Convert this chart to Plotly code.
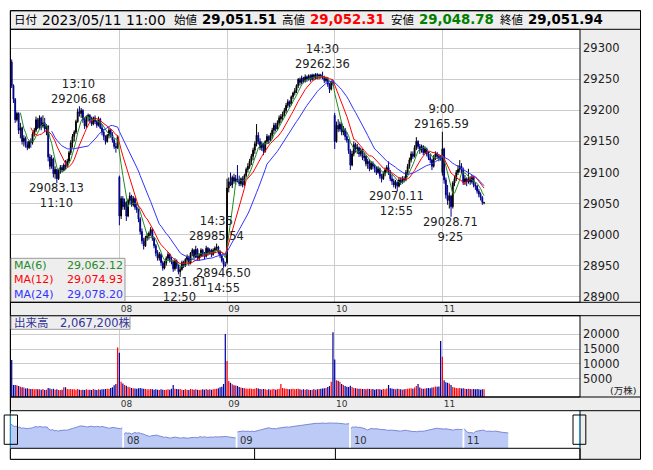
import plotly.graph_objects as go
import pandas as pd

# ---------------- data ----------------
day_labels = ["08", "09", "10", "11"]
day_start_index = [62, 124, 186, 248]
date_text = "2023/05/11 11:00"
ma_periods = [6, 12, 24]
ma_colors = ["#228b22", "#ff0000", "#3333ff"]
ma_last_text = [29062.12, 29074.93, 29078.20]
volume_total_text = "2,067,200株"
price_ticks = [28900, 28950, 29000, 29050, 29100, 29150, 29200, 29250, 29300]
volume_ticks = [5000, 10000, 15000, 20000]

marker_index = [39, 26, 97, 118, 122, 179, 222, 248, 253]
marker_kind = ["high", "low", "low", "high", "low", "high", "low", "high", "low"]
marker_time = ["13:10", "11:10", "12:50", "14:35", "14:55", "14:30", "12:55", "9:00", "9:25"]

# day 0 (05/02)
d0_open = [29278, 29240, 29218, 29185, 29195, 29168, 29172, 29150, 29155, 29145,
           29140, 29150, 29148, 29162, 29168, 29185, 29172, 29188, 29175, 29180,
           29170, 29175, 29125, 29110, 29122, 29098, 29105, 29090, 29102, 29108,
           29104, 29112, 29110, 29118, 29132, 29148, 29158, 29165, 29182, 29198,
           29195, 29200, 29185, 29175, 29190, 29192, 29184, 29178, 29188, 29182,
           29176, 29186, 29172, 29165, 29158, 29150, 29160, 29168, 29160, 29152,
           29142, 29140]
d0_high = [29282, 29242, 29220, 29198, 29197, 29180, 29174, 29160, 29158, 29150,
           29152, 29155, 29165, 29172, 29190, 29188, 29192, 29190, 29192, 29188,
           29178, 29176, 29130, 29128, 29124, 29110, 29106, 29106, 29112, 29112,
           29115, 29120, 29122, 29135, 29152, 29162, 29168, 29185, 29203, 29206.68,
           29204, 29202, 29188, 29192, 29195, 29194, 29190, 29190, 29192, 29185,
           29190, 29188, 29178, 29170, 29160, 29162, 29172, 29170, 29165, 29155,
           29148, 29160]
d0_low = [29236, 29212, 29180, 29182, 29162, 29155, 29145, 29142, 29140, 29136,
          29138, 29140, 29145, 29158, 29165, 29170, 29170, 29168, 29172, 29165,
          29160, 29118, 29105, 29106, 29092, 29090, 29083.13, 29088, 29098, 29100,
          29102, 29105, 29108, 29115, 29128, 29140, 29150, 29162, 29180, 29190,
          29188, 29180, 29170, 29172, 29182, 29180, 29175, 29176, 29178, 29172,
          29174, 29170, 29160, 29152, 29145, 29148, 29155, 29156, 29148, 29138,
          29132, 29138]
d0_close = [29240, 29218, 29185, 29195, 29168, 29172, 29150, 29155, 29145, 29140,
            29150, 29148, 29162, 29168, 29185, 29172, 29188, 29175, 29180, 29170,
            29175, 29125, 29110, 29122, 29098, 29105, 29090, 29102, 29108, 29104,
            29112, 29110, 29118, 29132, 29148, 29158, 29165, 29182, 29198, 29195,
            29200, 29185, 29175, 29190, 29192, 29184, 29178, 29188, 29182, 29176,
            29186, 29172, 29165, 29158, 29150, 29160, 29168, 29160, 29152, 29142,
            29140, 29158]
d0_vol = [11300, 2900, 2900, 2800, 2500, 2300, 2100, 2000, 1700, 1800,
          1600, 1500, 1500, 1400, 1500, 1400, 1400, 1300, 1500, 1200,
          1300, 1900, 1700, 1400, 1600, 1300, 1400, 1200, 1200, 1300,
          2100, 2100, 1500, 1400, 1500, 1400, 1400, 1300, 1500, 1300,
          1200, 1300, 1200, 1400, 1300, 1300, 1200, 1500, 1300, 1200,
          1400, 1300, 1400, 1400, 1500, 1600, 1500, 1900, 2100, 2800,
          3200, 15500]

# day 1 (05/08)
d1_open = [29093, 29030, 29058, 29045, 29052, 29030, 29055, 29062, 29048, 29058,
           29044, 29040, 29025, 29005, 28990, 28982, 28995, 28998, 29002, 29008,
           28994, 28982, 28970, 28962, 28968, 28955, 28946, 28954, 28962, 28968,
           28960, 28956, 28945, 28958, 28950, 28940, 28944, 28955, 28950, 28960,
           28964, 28954, 28970, 28975, 28964, 28976, 28962, 28966, 28975, 28968,
           28965, 28978, 28970, 28975, 28968, 28975, 28978, 28980, 28972, 28966,
           28958, 28952]
d1_high = [29095, 29062, 29062, 29058, 29054, 29058, 29068, 29064, 29062, 29060,
           29050, 29042, 29028, 29010, 28995, 28998, 29002, 29005, 29012, 29010,
           28996, 28985, 28975, 28972, 28970, 28958, 28958, 28965, 28972, 28970,
           28964, 28958, 28962, 28960, 28952, 28948, 28958, 28958, 28962, 28968,
           28966, 28972, 28978, 28977, 28982, 28978, 28970, 28978, 28977, 28972,
           28982, 28980, 28978, 28977, 28978, 28981, 28985.54, 28982, 28975, 28968,
           28962, 28956]
d1_low = [29015, 29025, 29040, 29040, 29022, 29028, 29050, 29045, 29045, 29040,
          29035, 29020, 29000, 28985, 28976, 28980, 28990, 28992, 28998, 28990,
          28978, 28965, 28958, 28958, 28950, 28942, 28944, 28950, 28958, 28955,
          28952, 28940, 28942, 28945, 28936, 28931.81, 28942, 28946, 28948, 28955,
          28950, 28952, 28965, 28960, 28962, 28958, 28958, 28964, 28965, 28960,
          28963, 28966, 28968, 28964, 28966, 28970, 28974, 28968, 28962, 28955,
          28946.50, 28948]
d1_close = [29030, 29058, 29045, 29052, 29030, 29055, 29062, 29048, 29058, 29044,
            29040, 29025, 29005, 28990, 28982, 28995, 28998, 29002, 29008, 28994,
            28982, 28970, 28962, 28968, 28955, 28946, 28954, 28962, 28968, 28960,
            28956, 28945, 28958, 28950, 28940, 28944, 28955, 28950, 28960, 28964,
            28954, 28970, 28975, 28964, 28976, 28962, 28966, 28975, 28968, 28965,
            28978, 28970, 28975, 28968, 28975, 28978, 28980, 28972, 28966, 28958,
            28952, 28950]
d1_vol = [13800, 4000, 3400, 2900, 2600, 2300, 2100, 1900, 1800, 1700,
          1600, 1800, 1900, 1700, 1600, 1500, 1400, 1400, 1500, 1400,
          1300, 1400, 1300, 1200, 1400, 1300, 1200, 1300, 1400, 1300,
          1600, 2900, 1600, 1500, 1400, 1500, 1300, 1200, 1400, 1300,
          1200, 1500, 1400, 1300, 1400, 1300, 1200, 1300, 1400, 1300,
          1500, 1300, 1400, 1300, 1400, 1500, 1600, 1800, 2100, 2300,
          3200, 20100]

# day 2 (05/09)
d2_open = [28955, 29075, 29085, 29080, 29092, 29086, 29090, 29088, 29082, 29090,
           29080, 29095, 29105, 29110, 29118, 29126, 29136, 29146, 29160, 29150,
           29140, 29146, 29134, 29150, 29158, 29152, 29160, 29168, 29176, 29170,
           29180, 29186, 29190, 29194, 29200, 29208, 29214, 29210, 29222, 29228,
           29232, 29240, 29250, 29245, 29252, 29248, 29254, 29250, 29256, 29250,
           29257, 29252, 29258, 29254, 29257, 29255, 29253, 29248, 29251, 29242,
           29234, 29246]
d2_high = [29090, 29092, 29100, 29095, 29098, 29096, 29112, 29095, 29092, 29094,
           29098, 29108, 29115, 29122, 29130, 29140, 29150, 29178, 29165, 29155,
           29150, 29148, 29152, 29162, 29160, 29164, 29172, 29180, 29180, 29184,
           29192, 29194, 29198, 29204, 29212, 29218, 29216, 29224, 29230, 29236,
           29242, 29252, 29253, 29256, 29254, 29258, 29256, 29258, 29258, 29259,
           29259, 29260, 29260, 29259, 29259, 29262.36, 29256, 29254, 29253, 29244,
           29248, 29248]
d2_low = [28952, 29068, 29078, 29075, 29082, 29080, 29084, 29078, 29078, 29076,
          29078, 29092, 29100, 29106, 29112, 29120, 29130, 29142, 29145, 29136,
          29135, 29128, 29132, 29146, 29146, 29150, 29155, 29162, 29166, 29168,
          29176, 29180, 29184, 29190, 29196, 29204, 29205, 29208, 29218, 29224,
          29228, 29236, 29240, 29242, 29244, 29245, 29246, 29248, 29246, 29248,
          29249, 29250, 29250, 29250, 29251, 29250, 29244, 29245, 29238, 29228,
          29232, 29240]
d2_close = [29075, 29085, 29080, 29092, 29086, 29090, 29088, 29082, 29090, 29080,
            29095, 29105, 29110, 29118, 29126, 29136, 29146, 29160, 29150, 29140,
            29146, 29134, 29150, 29158, 29152, 29160, 29168, 29176, 29170, 29180,
            29188, 29190, 29194, 29200, 29208, 29214, 29210, 29222, 29228, 29232,
            29240, 29250, 29245, 29252, 29248, 29254, 29250, 29256, 29250, 29257,
            29252, 29258, 29254, 29257, 29255, 29253, 29248, 29251, 29242, 29234,
            29246, 29243]
d2_vol = [11000, 4200, 3600, 3100, 2800, 2700, 2500, 2200, 2000, 1900,
          1800, 1700, 1600, 1700, 1600, 1500, 1600, 1900, 1700, 1500,
          1400, 1500, 1400, 1300, 1400, 1300, 1400, 1500, 1300, 1400,
          1600, 3200, 1900, 1700, 1600, 1500, 1400, 1500, 1600, 1400,
          1500, 1600, 1400, 1300, 1400, 1300, 1400, 1300, 1200, 1300,
          1400, 1300, 1400, 1500, 1600, 1700, 1800, 1900, 2200, 2500,
          4000, 20700]

# day 3 (05/10)
d3_open = [29192, 29150, 29176, 29170, 29178, 29165, 29170, 29158, 29152, 29135,
           29112, 29130, 29145, 29138, 29140, 29130, 29136, 29124, 29126, 29114,
           29118, 29106, 29115, 29110, 29108, 29100, 29106, 29094, 29090, 29098,
           29104, 29108, 29100, 29090, 29086, 29080, 29084, 29078, 29088, 29084,
           29090, 29088, 29100, 29110, 29120, 29130, 29126, 29140, 29150, 29142,
           29136, 29142, 29132, 29138, 29130, 29124, 29120, 29110, 29125, 29130,
           29126, 29124]
d3_high = [29196, 29182, 29186, 29182, 29180, 29175, 29172, 29165, 29154, 29138,
           29135, 29150, 29148, 29146, 29142, 29140, 29138, 29132, 29128, 29122,
           29120, 29118, 29118, 29114, 29110, 29110, 29108, 29098, 29102, 29108,
           29112, 29118, 29104, 29096, 29090, 29088, 29086, 29092, 29092, 29094,
           29094, 29104, 29114, 29124, 29134, 29134, 29144, 29157, 29152, 29146,
           29145, 29144, 29142, 29140, 29134, 29130, 29122, 29128, 29134, 29133,
           29130, 29128]
d3_low = [29138, 29148, 29165, 29166, 29160, 29160, 29152, 29148, 29130, 29104,
          29110, 29126, 29132, 29130, 29125, 29126, 29120, 29118, 29110, 29106,
          29102, 29104, 29105, 29100, 29096, 29098, 29090, 29084, 29088, 29094,
          29100, 29096, 29086, 29080, 29076, 29074, 29070.11, 29076, 29080, 29082,
          29084, 29086, 29096, 29106, 29116, 29122, 29124, 29136, 29138, 29130,
          29132, 29128, 29130, 29126, 29120, 29115, 29104, 29108, 29120, 29122,
          29118, 29119]
d3_close = [29150, 29176, 29170, 29178, 29165, 29170, 29158, 29152, 29135, 29112,
            29130, 29145, 29138, 29140, 29130, 29136, 29124, 29126, 29114, 29118,
            29106, 29115, 29110, 29108, 29100, 29106, 29094, 29090, 29098, 29104,
            29108, 29100, 29090, 29086, 29080, 29084, 29078, 29088, 29084, 29090,
            29088, 29100, 29110, 29120, 29130, 29126, 29140, 29150, 29142, 29136,
            29142, 29132, 29138, 29130, 29124, 29120, 29110, 29125, 29130, 29126,
            29124, 29122]
d3_vol = [11500, 4500, 4300, 4000, 3200, 2900, 2500, 2300, 2200, 2600,
          2200, 1900, 1800, 1700, 1600, 1600, 1500, 1500, 1400, 1600,
          1500, 1400, 1500, 1300, 1400, 1500, 1400, 1300, 1500, 1400,
          1700, 2900, 1800, 1700, 1500, 1400, 1600, 1500, 1400, 1300,
          1400, 1500, 1600, 1700, 1800, 1600, 2000, 2500, 3200, 2000,
          1700, 1600, 1700, 1800, 1900, 1800, 2000, 2100, 2400, 2300,
          2400, 17700]

# day 4 (05/11, up to 11:00)
d4_open = [29100, 29138, 29088, 29064, 29055, 29062, 29045, 29083, 29090, 29100,
           29105, 29110, 29105, 29085, 29090, 29085, 29090, 29085, 29092, 29080,
           29078, 29070, 29065, 29060, 29051.51]
d4_high = [29165.59, 29140, 29092, 29080, 29068, 29064, 29086, 29095, 29104, 29112,
           29120, 29115, 29108, 29096, 29092, 29106, 29094, 29096, 29094, 29084,
           29080, 29074, 29068, 29062, 29052.31]
d4_low = [29095, 29082, 29058, 29048, 29042, 29028.71, 29042, 29078, 29086, 29096,
          29100, 29098, 29080, 29080, 29078, 29082, 29080, 29082, 29076, 29072,
          29066, 29060, 29055, 29048, 29048.78]
d4_close = [29138, 29088, 29064, 29055, 29062, 29045, 29083, 29090, 29100, 29105,
            29110, 29105, 29085, 29090, 29085, 29090, 29085, 29092, 29080, 29078,
            29070, 29065, 29060, 29052, 29051.94]
d4_vol = [12400, 4500, 3800, 3600, 3400, 2900, 2200, 2000, 1900, 1800,
          1900, 1700, 1800, 1600, 1500, 1600, 1500, 1400, 1500, 1400,
          1500, 1400, 1300, 1400, 1400]

day_opens = [d0_open, d1_open, d2_open, d3_open, d4_open]
day_highs = [d0_high, d1_high, d2_high, d3_high, d4_high]
day_lows = [d0_low, d1_low, d2_low, d3_low, d4_low]
day_closes = [d0_close, d1_close, d2_close, d3_close, d4_close]
day_vols = [d0_vol, d1_vol, d2_vol, d3_vol, d4_vol]

opens = sum(day_opens, [])
highs = sum(day_highs, [])
lows = sum(day_lows, [])
closes = sum(day_closes, [])
vols = sum(day_vols, [])
n = len(closes)
xs = list(range(n))

# ---------------- geometry helpers ----------------
W, H = 653, 470
def fx(x):
    return x / W
def fy(y):
    return 1 - y / H

LEFT, PR, RIGHT = 10.4, 580.0, 640.5
HEAD_T, HEAD_B = 10.7, 29.3
P_T, P_B = 29.3, 302.3
V_T, V_B = 315.7, 397.0
N_T, N_B = 410.7, 448.3
S_B = 459.3
VOL_BASE = -1180

FONT = "DejaVu Sans, Noto Sans CJK JP, sans-serif"
GRID = "#cccccc"
GRAY = "#eeeeee"

fig = go.Figure()

# candles
fig.add_trace(go.Candlestick(
    x=xs, open=opens, high=highs, low=lows, close=closes,
    increasing=dict(line=dict(color="#000000", width=1), fillcolor="#000000"),
    decreasing=dict(line=dict(color="#00008b", width=1), fillcolor="#00008b"),
    whiskerwidth=0, xaxis="x", yaxis="y", hoverinfo="skip", showlegend=False))

# moving averages
s = pd.Series(closes, dtype=float)
for p, col in zip(ma_periods, ma_colors):
    fig.add_trace(go.Scatter(x=xs, y=s.rolling(p).mean(), mode="lines",
                             line=dict(color=col, width=1), xaxis="x", yaxis="y",
                             hoverinfo="skip", showlegend=False))

# volume
vcols = ["#ff0000" if c >= o else "#0000a0" for o, c in zip(opens, closes)]
fig.add_trace(go.Bar(x=xs, y=[v - VOL_BASE for v in vols], base=VOL_BASE,
                     marker=dict(color=vcols, line=dict(width=0)), width=0.7,
                     xaxis="x2", yaxis="y2", hoverinfo="skip", showlegend=False))

# navigator areas, one per day
start = 0
for dc in day_closes:
    idx = list(range(start, start + len(dc)))
    fig.add_trace(go.Scatter(x=idx, y=dc, mode="lines", fill="tozeroy",
                             fillcolor="#bccaf6", line=dict(color="#7c87d8", width=1),
                             xaxis="x3", yaxis="y3", hoverinfo="skip", showlegend=False))
    start += len(dc)

axis_common = dict(showline=False, zeroline=False, ticks="", fixedrange=True)
fig.update_layout(
    width=W, height=H, margin=dict(l=0, r=0, t=0, b=0),
    paper_bgcolor="white", plot_bgcolor="white",
    font=dict(family=FONT, color="#222222"), hovermode=False, showlegend=False,
    xaxis=dict(domain=[fx(LEFT), fx(PR)], range=[-0.75, 327.25], anchor="y",
               tickmode="array", tickvals=day_start_index, ticktext=day_labels,
               showgrid=True, gridcolor=GRID, gridwidth=1,
               tickfont=dict(size=9, color="#333333"), ticklabelshift=7,
               ticklabelstandoff=0, rangeslider=dict(visible=False), **axis_common),
    yaxis=dict(domain=[fy(P_B), fy(P_T)], range=[28891, 29330.6], anchor="x", side="right",
               tickmode="array", tickvals=price_ticks, tickformat="d",
               showgrid=True, gridcolor=GRID,
               tickfont=dict(size=11.5, color="#222222"), ticklabelstandoff=2, **axis_common),
    xaxis2=dict(domain=[fx(LEFT), fx(PR)], range=[-0.75, 327.25], anchor="y2",
                tickmode="array", tickvals=day_start_index, ticktext=day_labels,
                showgrid=True, gridcolor=GRID, gridwidth=1,
                tickfont=dict(size=9, color="#333333"), ticklabelshift=7,
                ticklabelstandoff=0, **axis_common),
    yaxis2=dict(domain=[fy(V_B), fy(V_T)], range=[VOL_BASE, 26283], anchor="x2", side="right",
                tickmode="array", tickvals=volume_ticks, tickformat="d",
                showgrid=True, gridcolor=GRID,
                tickfont=dict(size=11.5, color="#222222"), ticklabelstandoff=2, **axis_common),
    xaxis3=dict(domain=[fx(LEFT), fx(579.6)], range=[-0.1, 311.0], anchor="y3",
                visible=False, fixedrange=True),
    yaxis3=dict(domain=[fy(N_B), fy(N_T)], range=[28738, 29510], anchor="x3",
                visible=False, fixedrange=True),
)

shapes = []
def rect(x0, y0, x1, y1, fill=None, line="#000000", lw=1, layer="above"):
    return dict(type="rect", xref="paper", yref="paper", x0=fx(x0), x1=fx(x1),
                y0=fy(y1), y1=fy(y0), layer=layer,
                line=dict(color=line, width=lw),
                fillcolor=fill if fill else "rgba(0,0,0,0)")
def vline(x, y0, y1, color="#000000", lw=1):
    return dict(type="line", xref="paper", yref="paper", x0=fx(x), x1=fx(x),
                y0=fy(y1), y1=fy(y0), line=dict(color=color, width=lw), layer="above")

# gray panels
shapes.append(rect(LEFT, HEAD_T, RIGHT, HEAD_B, fill=GRAY, lw=0, layer="below"))
shapes.append(rect(PR, HEAD_B, RIGHT, S_B, fill=GRAY, lw=0, layer="below"))
shapes.append(rect(LEFT, P_B, PR, V_T, fill=GRAY, lw=0, layer="below"))
shapes.append(rect(LEFT, V_B, PR, N_T, fill=GRAY, lw=0, layer="below"))
# borders
shapes.append(rect(LEFT, HEAD_T, RIGHT, S_B))
shapes.append(rect(LEFT, HEAD_T, RIGHT, HEAD_B))
shapes.append(rect(LEFT, P_T, PR, P_B))
shapes.append(rect(LEFT, P_B, RIGHT, V_T))
shapes.append(rect(LEFT, V_T, PR, V_B))
shapes.append(rect(LEFT, V_B, RIGHT, N_T))
shapes.append(rect(LEFT, N_B, PR, S_B, fill="#ffffff"))
shapes.append(vline(254.6, N_B, S_B))
shapes.append(vline(335.4, N_B, S_B))
shapes.append(vline(PR, N_T, S_B))
# navigator markers
shapes.append(vline(LEFT, 413.3, N_B, color="#1ba1d4"))
shapes.append(vline(579.6, 413.3, N_B, color="#1ba1d4"))
shapes.append(rect(4.2, 415.0, 17.5, 444.3))
shapes.append(rect(573.0, 415.0, 585.8, 444.3))
# legend boxes
shapes.append(rect(11.0, 258.3, 125.0, 301.5, fill=GRAY, line="#999999"))
shapes.append(rect(11.0, 316.2, 130.0, 329.3, fill=GRAY, line="#999999"))
fig.update_layout(shapes=shapes)

ann = []
def text(x, y, t, size, color="#222222", anchor="left", bold=False, align="left"):
    if bold:
        t = "<b>" + t + "</b>"
    ann.append(dict(x=fx(x), y=fy(y), xref="paper", yref="paper", text=t,
                    showarrow=False, xanchor=anchor, yanchor="middle", align=align,
                    font=dict(size=size, color=color, family=FONT)))

# header
HY = 20.0
text(12.0, HY, "日付", 11.5, "#000000")
text(40.0, HY, date_text, 13.8, "#000000")
text(171.5, HY, "始値", 11.5, "#000000")
text(200.0, HY, f"{opens[-1]:,.2f}", 13.3, "#000000", bold=True)
text(279.5, HY, "高値", 11.5, "#000000")
text(308.0, HY, f"{highs[-1]:,.2f}", 13.3, "#ff0000", bold=True)
text(388.5, HY, "安値", 11.5, "#000000")
text(416.5, HY, f"{lows[-1]:,.2f}", 13.3, "#008000", bold=True)
text(497.5, HY, "終値", 11.5, "#000000")
text(525.5, HY, f"{closes[-1]:,.2f}", 13.3, "#000000", bold=True)

# MA legend (one block per column)
lab_block = "<br>".join(f"<span style='color:{c}'>MA({p})</span>"
                        for p, c in zip(ma_periods, ma_colors))
val_block = "<br>".join(f"<span style='color:{c}'>{v:,.2f}</span>"
                        for v, c in zip(ma_last_text, ma_colors))
text(12.0, 280.0, lab_block, 11, anchor="left", align="left")
text(124.5, 280.0, val_block, 11, anchor="right", align="right")

# volume label
text(11.5, 322.8, "出来高", 11.5, "#333399")
text(57.5, 322.8, volume_total_text, 11.5, "#333399")
text(637.5, 390.0, "(万株)", 9.5, "#222222", anchor="right")

# navigator day labels
for k, lab in zip(day_start_index, day_labels):
    ann.append(dict(x=k, y=fy(440.8), xref="x3", yref="paper", text=lab, showarrow=False,
                    xanchor="left", yanchor="middle", xshift=1,
                    font=dict(size=10, color="#333333", family=FONT)))

# high / low markers (two-line blocks)
for i, kind, tm in zip(marker_index, marker_kind, marker_time):
    if kind == "high":
        yv = highs[i]
        t = f"{tm}<br>{yv:.2f}"
        sh = 15.0
    else:
        yv = lows[i]
        t = f"{yv:.2f}<br>{tm}"
        sh = -12.5
    ann.append(dict(x=i, y=yv, xref="x", yref="y", text=t, showarrow=False,
                    xanchor="center", yanchor="middle", yshift=sh, xshift=-0.5,
                    align="center", font=dict(size=11.5, color="#222222", family=FONT)))

fig.update_layout(annotations=ann)
fig.write_html("out.html", config={"displayModeBar": False, "staticPlot": True},
               post_script="document.body.style.margin='0px';document.body.style.overflow='hidden';")
